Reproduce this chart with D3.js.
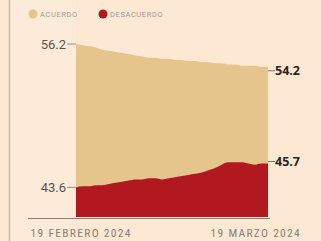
<!DOCTYPE html>
<html><head><meta charset="utf-8">
<script src="https://cdn.jsdelivr.net/npm/d3@7"></script>
<style>html,body{margin:0;padding:0;background:#fde8d3;}svg{display:block;}</style>
</head><body>
<script>
const dates = d3.range(30).map(i => new Date(2024, 1, 19 + i));
const acuerdo = [56.2,56.1,56.0,55.9,55.7,55.6,55.5,55.4,55.3,55.2,55.1,55.0,55.0,54.9,54.9,54.8,54.8,54.7,54.7,54.6,54.6,54.5,54.5,54.4,54.4,54.3,54.3,54.3,54.2,54.2];
const desacuerdo = [43.6,43.7,43.7,43.8,43.8,43.9,44.0,44.1,44.2,44.3,44.3,44.4,44.4,44.3,44.4,44.5,44.6,44.7,44.8,44.9,45.1,45.3,45.6,45.8,45.8,45.8,45.7,45.6,45.7,45.7];
const seriesNames = ["ACUERDO","DESACUERDO"];
const xTickLabels = ["19 FEBRERO 2024","19 MARZO 2024"];
const colors = {ACUERDO:"#e6c58c", DESACUERDO:"#b2191f"};

const W = 321, H = 241;
const svg = d3.select("body").append("svg").attr("width", W).attr("height", H);
svg.append("rect").attr("width", W).attr("height", H).attr("fill", "#fde8d3");
svg.append("rect").attr("x", 10).attr("width", 66).attr("height", H).attr("fill", "#fdebd9");
svg.append("line").attr("x1", 9.5).attr("x2", 9.5).attr("y1", 0).attr("y2", H).attr("stroke", "#c9b8a6").attr("stroke-width", 1.5);

const x = d3.scaleTime().domain(d3.extent(dates)).range([76, 268]);
const y = d3.scaleLinear().domain([41, 56.2]).range([217, 44]);

const areaA = d3.area().x((d,i)=>x(dates[i])).y0(y(41)).y1(d=>y(d)).curve(d3.curveMonotoneX);
svg.append("path").datum(acuerdo).attr("d", areaA).attr("fill", colors.ACUERDO);
svg.append("path").datum(desacuerdo).attr("d", areaA).attr("fill", colors.DESACUERDO);

// baseline axis
svg.append("line").attr("x1", 28).attr("x2", 270).attr("y1", 218.5).attr("y2", 218.5).attr("stroke", "#8a8078").attr("stroke-width", 1.2);

// left labels
const leftVals = [acuerdo[0], desacuerdo[0]];
leftVals.forEach(v => {
  svg.append("line").attr("x1", 67).attr("x2", 76).attr("y1", y(v)).attr("y2", y(v)).attr("stroke", "#777").attr("stroke-width", 0.8);
  svg.append("text").attr("x", 66).attr("y", y(v)).attr("dy", "0.35em").attr("text-anchor", "end")
    .attr("font-family", "Roboto, sans-serif").attr("font-size", 13).attr("fill", "#5a5550").text(v.toFixed(1));
});
// right labels
const rightVals = [acuerdo[acuerdo.length-1], desacuerdo[desacuerdo.length-1]];
rightVals.forEach((v,k) => {
  const yy = y(v) + (k===0 ? 4 : -2);
  svg.append("line").attr("x1", 268).attr("x2", 275).attr("y1", yy).attr("y2", yy).attr("stroke", "#555").attr("stroke-width", 0.8);
  svg.append("text").attr("x", 275).attr("y", yy).attr("dy", "0.35em")
    .attr("font-family", "'Open Sans', sans-serif").attr("font-weight", "bold").attr("font-size", 12.5).attr("fill", "#2a2522").text(v.toFixed(1));
});

// legend
const legendX = [28, 98];
seriesNames.forEach((n,i) => {
  svg.append("circle").attr("cx", legendX[i]+5).attr("cy", 14).attr("r", 4.5).attr("fill", colors[n]);
  svg.append("text").attr("x", legendX[i]+12).attr("y", 14).attr("dy", "0.35em")
    .attr("font-family", "Roboto, sans-serif").attr("font-size", 7.5).attr("letter-spacing", 0.6).attr("fill", "#a59a90").text(n);
});

// x tick labels
const xAxis = d3.axisBottom(x).tickValues([dates[0], dates[dates.length-1]]).tickSize(0).tickFormat((d,i)=>xTickLabels[i]);
const gx = svg.append("g").attr("transform", "translate(0,226)").call(xAxis);
gx.select(".domain").remove();
gx.selectAll("text").attr("font-family", "'Liberation Sans Narrow', 'Roboto Condensed', sans-serif")
  .attr("font-size", 11.5).attr("fill", "#8a8078").attr("text-anchor", "start").attr("letter-spacing", 1.3);
gx.selectAll(".tick").filter((d,i)=>i===0).select("text").attr("dx", -46);
gx.selectAll(".tick").filter((d,i)=>i===1).select("text").attr("dx", -58);
</script>
</body></html>
